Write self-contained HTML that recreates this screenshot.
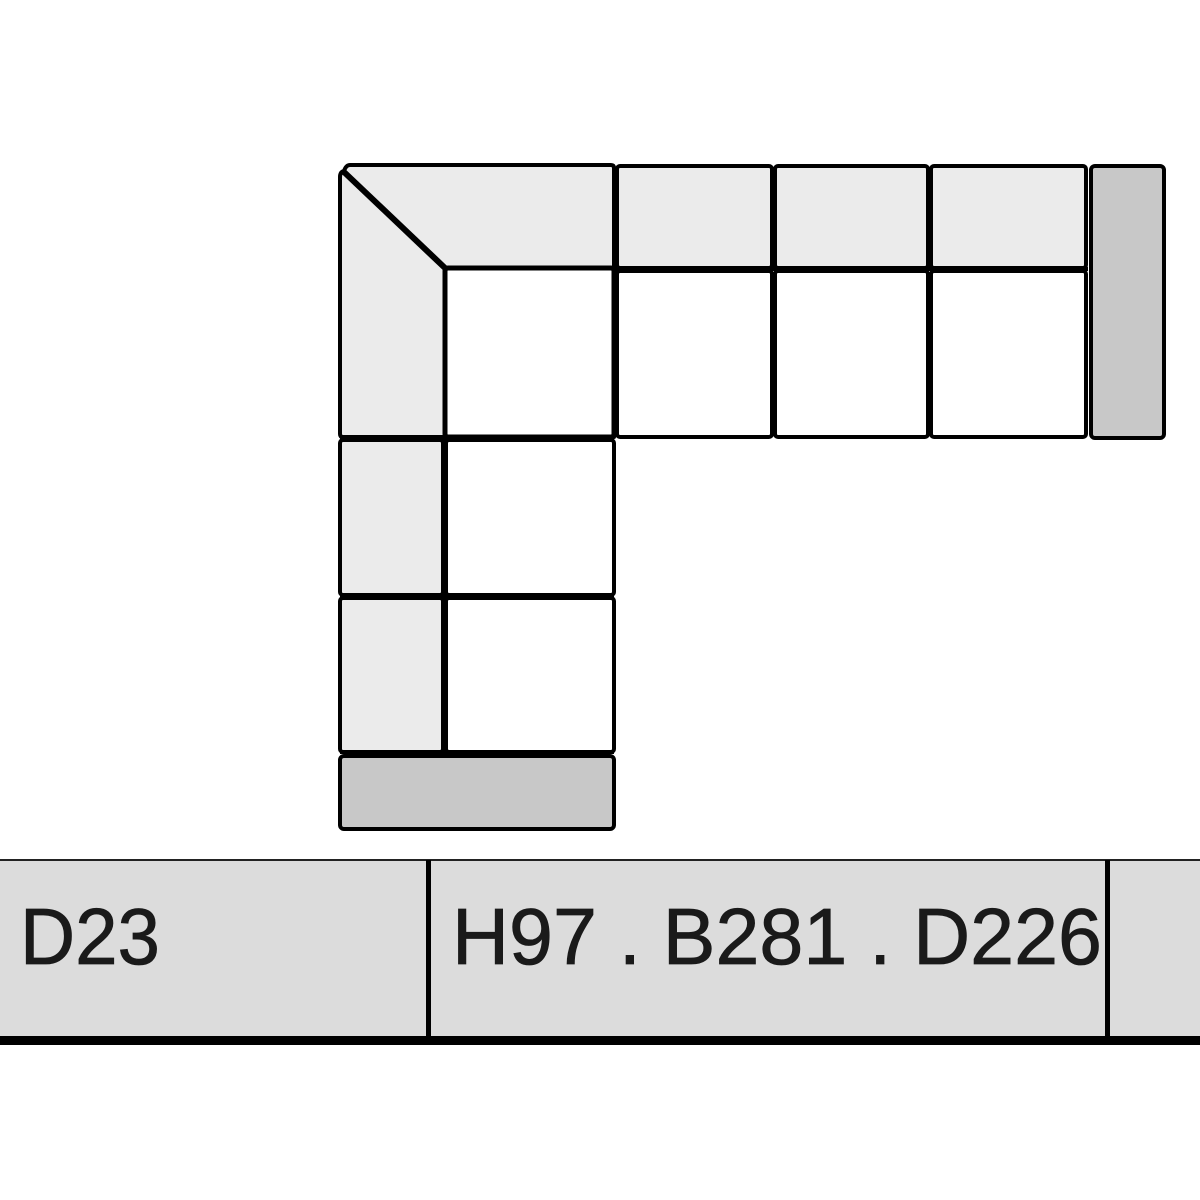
<!DOCTYPE html>
<html><head><style>
html,body{margin:0;padding:0;background:#fff;width:1200px;height:1200px;overflow:hidden}
</style></head><body>
<svg width="1200" height="1200" viewBox="0 0 1200 1200" xmlns="http://www.w3.org/2000/svg">
<g stroke="#000" stroke-width="4" stroke-linejoin="round">
<!-- corner piece -->
<path d="M350,165 L611,165 Q614,165 614,168 L614,437 L343,437 Q340,437 340,434 L340,177 Q340,172 344,171 Q346,165 350,165 Z" fill="#ebebeb"/>
<line x1="344" y1="172" x2="445" y2="268" stroke-width="6"/>
<rect x="445" y="268" width="169" height="169" rx="3" fill="#fff" stroke-width="5"/>
<!-- top row backs -->
<rect x="617" y="166" width="155" height="102" rx="3" fill="#ebebeb"/>
<rect x="775" y="166" width="153" height="102" rx="3" fill="#ebebeb"/>
<rect x="931" y="166" width="155" height="102" rx="3" fill="#ebebeb"/>
<!-- top row seats -->
<rect x="617" y="271" width="155" height="166" rx="3" fill="#fff"/>
<rect x="775" y="271" width="153" height="166" rx="3" fill="#fff"/>
<rect x="931" y="271" width="155" height="166" rx="3" fill="#fff"/>
<line x1="614" y1="269" x2="1088" y2="269" stroke-width="4"/>
<!-- right arm -->
<rect x="1091" y="166" width="73" height="272" rx="4" fill="#c8c8c8"/>
<!-- left column -->
<rect x="340" y="440" width="103" height="155" rx="3" fill="#ebebeb"/>
<rect x="446" y="440" width="168" height="155" rx="3" fill="#fff"/>
<rect x="340" y="598" width="103" height="154" rx="3" fill="#ebebeb"/>
<rect x="446" y="598" width="168" height="154" rx="3" fill="#fff"/>
<line x1="444" y1="437" x2="444" y2="752" stroke-width="5"/>
<line x1="340" y1="438" x2="614" y2="438" stroke-width="4"/>
<line x1="340" y1="597" x2="614" y2="597" stroke-width="4"/>
<line x1="340" y1="752" x2="614" y2="752" stroke-width="4"/>
<!-- bottom arm -->
<rect x="340" y="756" width="274" height="73" rx="4" fill="#c8c8c8"/>
</g>
<!-- bar -->
<rect x="0" y="861" width="1200" height="176" fill="#dcdcdc"/>
<line x1="0" y1="860" x2="1200" y2="860" stroke="#222" stroke-width="2"/>
<rect x="0" y="1036" width="1200" height="9" fill="#000"/>
<rect x="426" y="860" width="5" height="180" fill="#000"/>
<rect x="1105" y="860" width="5" height="180" fill="#000"/>
<g font-family="Liberation Sans, sans-serif" font-size="80" fill="#1a1a1a" stroke="#1a1a1a" stroke-width="0.8">
<text x="20" y="964" textLength="140" lengthAdjust="spacingAndGlyphs">D23</text>
<text x="452" y="964" textLength="650" lengthAdjust="spacingAndGlyphs">H97 . B281 . D226</text>
</g>
</svg>
</body></html>
